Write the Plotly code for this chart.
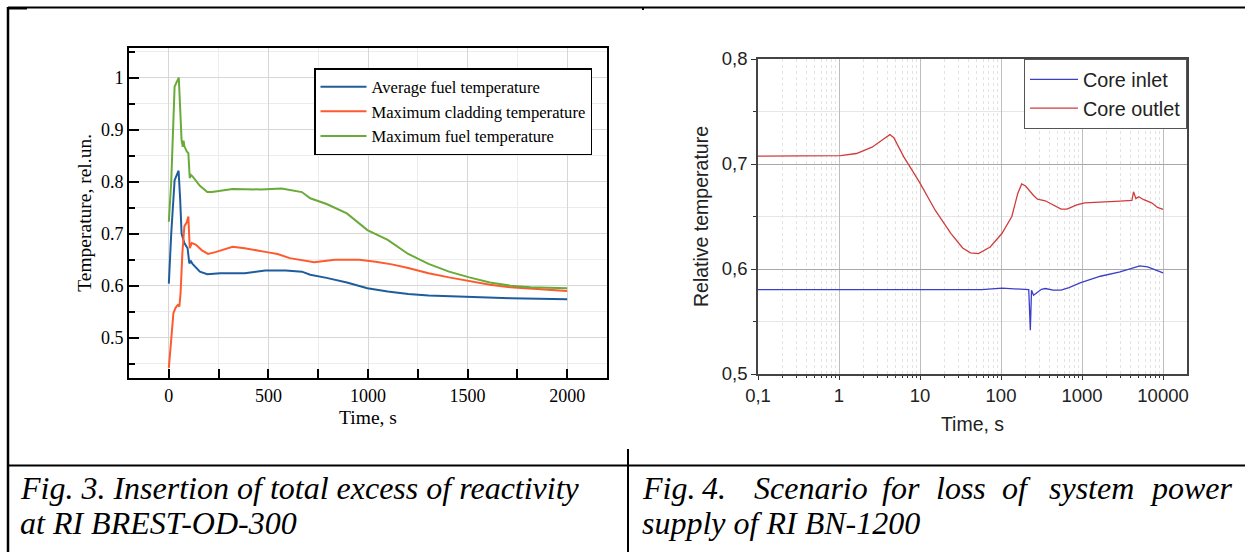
import plotly.graph_objects as go

# ---------------- Fig. 3 data (BREST-OD-300) ----------------
t_green = [0, 12, 29, 47, 50, 64, 70, 74, 78, 90, 98, 105, 111, 119, 156, 193, 217, 320, 463, 566, 668,
           710, 792, 894, 997, 1099, 1202, 1304, 1407, 1509, 1612, 1715, 1817, 2000]
max_fuel = [0.723, 0.80, 0.983, 0.998, 1.0, 0.88, 0.867, 0.879, 0.868, 0.858, 0.855, 0.807, 0.813, 0.810,
            0.792, 0.780, 0.780, 0.786, 0.785, 0.787, 0.780, 0.768, 0.757, 0.739, 0.707, 0.688, 0.661,
            0.642, 0.627, 0.616, 0.606, 0.600, 0.597, 0.595]

t_blue = [0, 12, 29, 41, 49, 57, 64, 78, 94, 103, 111, 119, 156, 193, 258, 381, 484, 587, 668, 710, 792,
          894, 997, 1099, 1202, 1304, 1509, 1715, 2000]
avg_fuel = [0.604, 0.70, 0.803, 0.816, 0.821, 0.765, 0.700, 0.682, 0.672, 0.643, 0.647, 0.642, 0.627,
            0.622, 0.624, 0.624, 0.629, 0.629, 0.627, 0.621, 0.615, 0.606, 0.595, 0.589, 0.584, 0.581,
            0.578, 0.576, 0.574]

t_red = [0, 8, 23, 33, 45, 53, 59, 68, 78, 90, 98, 105, 115, 135, 166, 197, 238, 320, 381, 484, 546, 607,
         689, 730, 833, 956, 1038, 1120, 1202, 1304, 1407, 1509, 1612, 1715, 1817, 2000]
max_clad = [0.442, 0.477, 0.547, 0.557, 0.563, 0.560, 0.586, 0.663, 0.714, 0.722, 0.733, 0.672, 0.682,
            0.679, 0.668, 0.661, 0.665, 0.675, 0.672, 0.665, 0.661, 0.653, 0.648, 0.645, 0.650, 0.650,
            0.646, 0.641, 0.634, 0.624, 0.616, 0.609, 0.602, 0.597, 0.594, 0.590]

# ---------------- Fig. 4 data (BN-1200) ----------------
t_out = [0.1, 0.3, 1.05, 1.64, 2.56, 3.59, 4.25, 4.75, 6.28, 9.8, 15.4, 24, 33.6, 42, 52.6, 73.6, 103,
         136, 161, 180, 201, 252, 282, 352, 441, 551, 652, 862, 1079, 1688, 2952, 4130, 4324, 4624,
         5000, 5785, 7230, 8552, 10000]
core_outlet = [0.7075, 0.7075, 0.708, 0.710, 0.716, 0.724, 0.728, 0.725, 0.707, 0.683, 0.656, 0.634,
               0.620, 0.6154, 0.6147, 0.621, 0.634, 0.650, 0.672, 0.681, 0.679, 0.670, 0.6665, 0.665,
               0.661, 0.657, 0.657, 0.661, 0.663, 0.6634, 0.6646, 0.6653, 0.6735, 0.667, 0.6688, 0.666,
               0.663, 0.6586, 0.6567]

t_in = [0.1, 1, 10, 58, 103, 190, 220, 230, 238, 252, 267, 316, 352, 441, 551, 690, 966, 1688, 2952,
        4624, 5167, 6457, 8090, 10000]
core_inlet = [0.5804, 0.5804, 0.5804, 0.5804, 0.5817, 0.581, 0.5804, 0.5417, 0.5798, 0.575, 0.5766,
              0.5807, 0.5814, 0.5798, 0.5798, 0.5823, 0.5871, 0.5931, 0.5973, 0.6014, 0.603, 0.602,
              0.5989, 0.5963]

left_ticks_y = [0.5, 0.6, 0.7, 0.8, 0.9, 1.0]
left_ticktext_y = ["0.5", "0.6", "0.7", "0.8", "0.9", "1"]
left_ticks_x = [0, 500, 1000, 1500, 2000]

right_ticks_x = [0.1, 1, 10, 100, 1000, 10000]
right_ticktext_x = ["0,1", "1", "10", "100", "1000", "10000"]
right_ticks_y = [0.5, 0.6, 0.7, 0.8]
right_ticktext_y = ["0,5", "0,6", "0,7", "0,8"]

caption_left = ["Fig. 3. Insertion of total excess of reactivity", "at RI BREST-OD-300"]
caption_right_line1 = ["Fig.", "4.", "Scenario", "for", "loss", "of", "system", "power"]
caption_right_line2 = "supply of RI BN-1200"

W, H = 1245, 552
def px(x): return x / W
def py(y): return 1 - y / H

fig = go.Figure()

serif = "Liberation Serif, Times New Roman, serif"
sans = "Liberation Sans, Arial, sans-serif"

fig.add_trace(go.Scatter(x=t_blue, y=avg_fuel, mode="lines", name="Average fuel temperature",
                         line=dict(color="#1f5c9e", width=2), xaxis="x", yaxis="y",
                         legend="legend", legendgroup="a"))
fig.add_trace(go.Scatter(x=t_red, y=max_clad, mode="lines", name="Maximum cladding temperature",
                         line=dict(color="#ff5a2e", width=2), xaxis="x", yaxis="y",
                         legend="legend", legendgroup="b"))
fig.add_trace(go.Scatter(x=t_green, y=max_fuel, mode="lines", name="Maximum fuel temperature",
                         line=dict(color="#6aaa38", width=2), xaxis="x", yaxis="y",
                         legend="legend", legendgroup="c"))

fig.add_trace(go.Scatter(x=t_in, y=core_inlet, mode="lines", name="Core inlet",
                         line=dict(color="#3d3dcc", width=1.3), xaxis="x2", yaxis="y2",
                         legend="legend2", legendgroup="d"))
fig.add_trace(go.Scatter(x=t_out, y=core_outlet, mode="lines", name="Core outlet",
                         line=dict(color="#d03c3c", width=1.3), xaxis="x2", yaxis="y2",
                         legend="legend2", legendgroup="e"))

fig.update_layout(
    template="none",
    width=W, height=H, margin=dict(l=0, r=0, t=0, b=0, pad=0, autoexpand=False),
    paper_bgcolor="white", plot_bgcolor="white",
    xaxis=dict(domain=[px(129), px(607)], anchor="y", range=[-200, 2200], automargin=False,
               tickmode="array", tickvals=left_ticks_x,
               ticks="inside", ticklen=9, tickwidth=1.5, tickcolor="black",
               showline=True, linecolor="black", linewidth=2, mirror=True,
               showgrid=True, gridcolor="#d6d6d6", gridwidth=1.3, zeroline=False,
               minor=dict(dtick=250, tick0=0, ticks="inside", ticklen=9, tickcolor="black",
                          showgrid=True, gridcolor="#ececec", gridwidth=1),
               tickfont=dict(family=serif, size=18, color="black"),
               title=dict(text="Time, s", font=dict(family=serif, size=19.5, color="black"), standoff=6)),
    yaxis=dict(domain=[py(378), py(47.7)], anchor="x", range=[0.4225, 1.0576], automargin=False,
               tickmode="array", tickvals=left_ticks_y, ticktext=left_ticktext_y,
               ticks="inside", ticklen=10, tickwidth=1.5, tickcolor="black",
               showline=True, linecolor="black", linewidth=2, mirror=True,
               showgrid=True, gridcolor="#d6d6d6", gridwidth=1.3, zeroline=False,
               minor=dict(dtick=0.05, tick0=0.5, ticks="inside", ticklen=6, tickcolor="black",
                          showgrid=True, gridcolor="#ececec", gridwidth=1),
               tickfont=dict(family=serif, size=18, color="black"),
               title=dict(text="Temperature, rel.un.", font=dict(family=serif, size=19.5, color="black"),
                          standoff=4)),
    xaxis2=dict(domain=[px(758), px(1187)], anchor="y2", type="log", range=[-1, 4.296], automargin=False,
                tickmode="array", tickvals=right_ticks_x, ticktext=right_ticktext_x,
                ticks="outside", ticklen=4, tickwidth=1.2, tickcolor="#333",
                showline=True, linecolor="#444", linewidth=1.5, mirror=True,
                showgrid=True, gridcolor="#bdbdbd", gridwidth=1, zeroline=False,
                minor=dict(tickvals=[k * 10 ** e for e in range(-1, 5) for k in range(2, 10)],
                           ticks="outside", ticklen=2.5, tickcolor="#333",
                           showgrid=True, gridcolor="#e3e3e3", gridwidth=1, griddash="dot"),
                tickfont=dict(family=sans, size=18.5, color="#222"),
                title=dict(text="Time, s", font=dict(family=sans, size=19.5, color="#222"), standoff=12)),
    yaxis2=dict(domain=[py(374), py(59)], anchor="x2", range=[0.5, 0.8], automargin=False,
                tickmode="array", tickvals=right_ticks_y, ticktext=right_ticktext_y,
                ticks="outside", ticklen=5, tickwidth=1.2, tickcolor="#333",
                showline=True, linecolor="#444", linewidth=1.5, mirror=True,
                showgrid=True, gridcolor="#a8a8a8", gridwidth=1, zeroline=False,
                minor=dict(tickvals=[0.55, 0.65, 0.75], ticks="outside", ticklen=3, tickcolor="#333",
                           showgrid=True, gridcolor="#e6e6e6", gridwidth=1),
                tickfont=dict(family=sans, size=18.5, color="#222"),
                title=dict(text="Relative temperature", font=dict(family=sans, size=19.5, color="#222"),
                           standoff=8)),
    legend=dict(x=px(314), xanchor="left", y=py(68), yanchor="top",
                bgcolor="white", bordercolor="black", borderwidth=1.5,
                font=dict(family=serif, size=16.6, color="black"), tracegroupgap=0,
                itemwidth=46),
    legend2=dict(x=px(1187), xanchor="right", y=py(59), yanchor="top",
                 bgcolor="white", bordercolor="#555", borderwidth=1,
                 font=dict(family=sans, size=19.8, color="#222"), tracegroupgap=0,
                 itemwidth=48),
    showlegend=True,
)

# table lines (document layout frame)
line_black = dict(color="black", width=2)
shapes = [
    dict(type="line", xref="paper", yref="paper", x0=px(8), x1=1, y0=py(7.5), y1=py(7.5), line=line_black),
    dict(type="line", xref="paper", yref="paper", x0=px(8), x1=px(27), y0=py(8.5), y1=py(8.5), line=line_black),
    dict(type="line", xref="paper", yref="paper", x0=px(8), x1=px(8), y0=py(7), y1=0, line=dict(color="black", width=2.5)),
    dict(type="line", xref="paper", yref="paper", x0=px(8), x1=1, y0=py(465.5), y1=py(465.5), line=line_black),
    dict(type="line", xref="paper", yref="paper", x0=px(628), x1=px(628), y0=py(449), y1=0, line=line_black),
    dict(type="line", xref="paper", yref="paper", x0=px(643), x1=px(643), y0=py(7), y1=py(10), line=line_black),
]
fig.update_layout(shapes=shapes)

cap_font = dict(family=serif, size=32, color="black")
annotations = []
for i, txt in enumerate(caption_left):
    annotations.append(dict(text="<i>" + txt + "</i>", xref="paper", yref="paper", x=px(18),
                            y=py(488 + 35 * i), xanchor="left", yanchor="middle", showarrow=False,
                            font=cap_font))
# justified first line of right caption: words spread between cell margins
word_x = [640, 700, 752, 880, 934, 1000, 1047, 1235]
for j, (w, x) in enumerate(zip(caption_right_line1, word_x)):
    annotations.append(dict(text="<i>" + w + "</i>", xref="paper", yref="paper", x=px(x),
                            y=py(488), xanchor="right" if j == len(word_x) - 1 else "left",
                            yanchor="middle", showarrow=False, font=cap_font))
annotations.append(dict(text="<i>" + caption_right_line2 + "</i>", xref="paper", yref="paper", x=px(640),
                        y=py(523), xanchor="left", yanchor="middle", showarrow=False, font=cap_font))
fig.update_layout(annotations=annotations)

fig.write_html("out.html", config={"displayModeBar": False},
               post_script="document.body.style.margin='0';")
